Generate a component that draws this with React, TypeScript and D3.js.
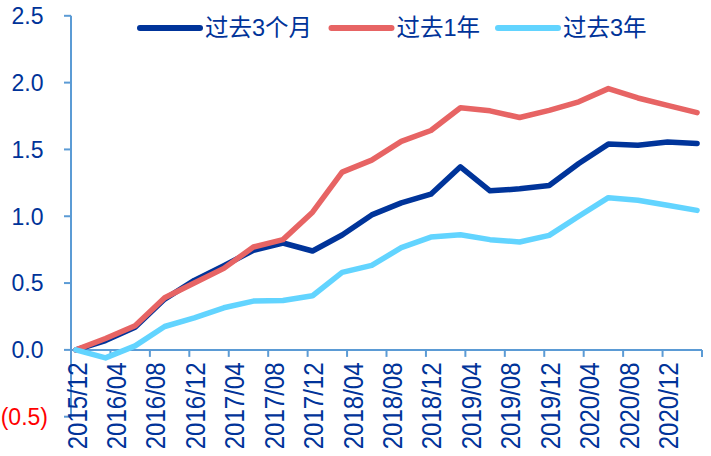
import React from "react";
import * as d3 from "d3";

const periods = [
  "2015/12", "2016/03", "2016/06", "2016/09", "2016/12", "2017/03", "2017/06", "2017/09",
  "2017/12", "2018/03", "2018/06", "2018/09", "2018/12", "2019/03", "2019/06", "2019/09",
  "2019/12", "2020/03", "2020/06", "2020/09", "2020/12", "2021/03",
];
const past3Months = [0, 0.07, 0.17, 0.38, 0.52, 0.63, 0.745, 0.8, 0.74, 0.86, 1.01, 1.1, 1.165, 1.37, 1.19, 1.205, 1.23, 1.395, 1.54, 1.532, 1.556, 1.545];
const past1Year = [0, 0.085, 0.18, 0.39, 0.5, 0.61, 0.77, 0.825, 1.03, 1.33, 1.42, 1.56, 1.642, 1.812, 1.789, 1.739, 1.792, 1.856, 1.955, 1.885, 1.83, 1.775];
const past3Years = [0, -0.06, 0.03, 0.175, 0.24, 0.315, 0.365, 0.37, 0.405, 0.58, 0.632, 0.765, 0.844, 0.862, 0.825, 0.807, 0.857, 1.0, 1.139, 1.12, 1.082, 1.044];
const seriesNames = ["过去3个月", "过去1年", "过去3年"];
const yTicks = [-0.5, 0, 0.5, 1, 1.5, 2, 2.5];
const xTickLabels = [
  "2015/12", "2016/04", "2016/08", "2016/12", "2017/04", "2017/08", "2017/12", "2018/04",
  "2018/08", "2018/12", "2019/04", "2019/08", "2019/12", "2020/04", "2020/08", "2020/12",
];

const W = 711;
const H = 456;
const AXIS = "#5B9BD5";
const LABEL = "#003399";
const COLORS = ["#00349A", "#E76464", "#62D4FF"];
const FONT = "'Liberation Sans', Arial, 'Noto Sans CJK SC', sans-serif";

const monthIndex = (s: string) => {
  const [y, m] = s.split("/").map(Number);
  return y * 12 + m - (2015 * 12 + 12);
};

export default function App() {
  const x = d3.scaleLinear().domain([0, 64]).range([71, 702]);
  const y = d3.scaleLinear().domain([-0.5, 2.5]).range([416.7, 15.8]);
  const all = [past3Months, past1Year, past3Years];
  const line = d3
    .line<number>()
    .x((_, i) => x(monthIndex(periods[i]) + 0.5))
    .y((d) => y(d));
  const tickMonths = d3.range(0, 65, 4);
  const legendX = [140, 331.5, 498];

  return (
    <svg width={W} height={H} style={{ position: "absolute", left: 0, top: 0, background: "#fff" }} fontFamily={FONT}>
      {/* y axis */}
      <line x1={71} x2={71} y1={y(2.5)} y2={y(-0.5)} stroke={AXIS} strokeWidth={2} />
      {yTicks.map((t) => (
        <g key={t}>
          <line x1={64} x2={71} y1={y(t)} y2={y(t)} stroke={AXIS} strokeWidth={2} />
          <text
            x={t < 0 ? 48 : 43.5}
            y={y(t)}
            dy="0.36em"
            textAnchor="end"
            fontSize={23}
            fill={t < 0 ? "#FF0000" : LABEL}
          >
            {t < 0 ? `(${Math.abs(t).toFixed(1)})` : t.toFixed(1)}
          </text>
        </g>
      ))}
      {/* x axis */}
      <line x1={x(0)} x2={x(64)} y1={y(0)} y2={y(0)} stroke={AXIS} strokeWidth={2} />
      {tickMonths.map((m) => (
        <line key={m} x1={x(m)} x2={x(m)} y1={y(0)} y2={y(0) + 7} stroke={AXIS} strokeWidth={2} />
      ))}
      {xTickLabels.map((lab, i) => (
        <text
          key={lab}
          transform={`translate(${x(tickMonths[i]) + 15.5},${362.5}) rotate(-90) scale(1,1.12)`}
          textAnchor="end"
          fontSize={24}
          fill={LABEL}
        >
          {lab}
        </text>
      ))}
      {/* lines */}
      {all.map((s, k) => (
        <path
          key={k}
          d={line(s) || ""}
          fill="none"
          stroke={COLORS[k]}
          strokeWidth={5.5}
          strokeLinejoin="round"
          strokeLinecap="round"
        />
      ))}
      {/* legend */}
      {seriesNames.map((n, k) => (
        <g key={n}>
          <line x1={legendX[k]} x2={legendX[k] + 60} y1={28} y2={28} stroke={COLORS[k]} strokeWidth={6} strokeLinecap="round" />
          <text x={legendX[k] + 65} y={28} dy="0.36em" fontSize={23.5} fill={LABEL}>
            {n}
          </text>
        </g>
      ))}
    </svg>
  );
}
